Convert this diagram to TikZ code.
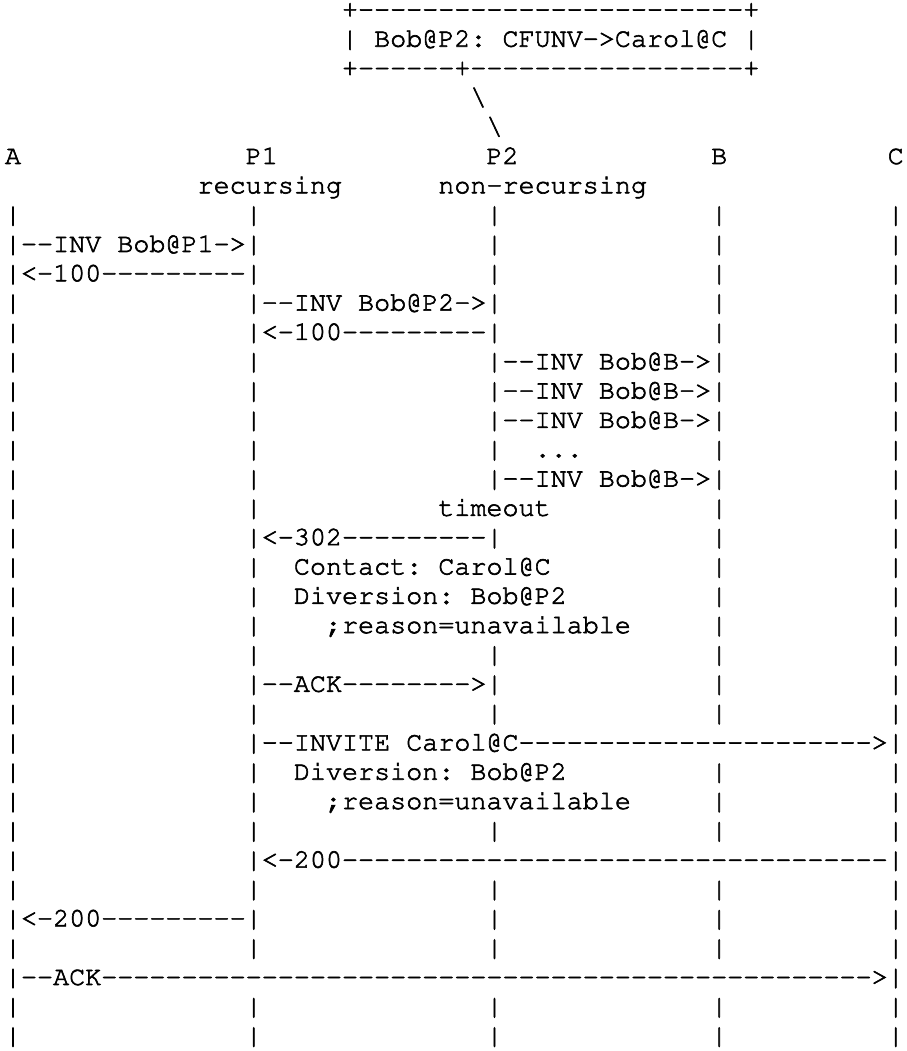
\documentclass[tikz,border=0pt]{standalone}
\usepackage[T1]{fontenc}
\renewcommand{\ttdefault}{pcr}
\ExplSyntaxOn
\cs_new:Npn \Hy #1 { \prg_replicate:nn {#1} { -\kern0pt } }
\ExplSyntaxOff
\newcommand\thickentext{\special{pdf:literal direct 2 Tr 0.6 w}}
\tikzset{txt/.style={anchor=base west, inner sep=0pt, outer sep=0pt,
  font=\fontsize{26.75}{29.32}\selectfont\ttfamily\frenchspacing\thickentext}}
\newcommand\Txt[3]{\node[txt] (r#1c#2) at ({4.975+#2*16.05},{11.92-29.32*#1}) {#3};}
\newcommand\Vb[2]{\Txt{#1}{#2}{|}}
\newcommand\AllBars[1]{\Vb{#1}{0}\Vb{#1}{15}\Vb{#1}{30}\Vb{#1}{44}\Vb{#1}{55}}
\begin{document}
\begin{tikzpicture}[x=1pt,y=1pt]
\fill[white] (0,0) rectangle (906,-1051);
% box
\Txt{1}{21}{+\Hy{24}+}
\Txt{2}{21}{| Bob@P2: CFUNV-\kern0pt>Carol@C |}
\Txt{3}{21}{+\Hy{6}+\Hy{17}+}
\Txt{4}{29}{\textbackslash}
\Txt{5}{30}{\textbackslash}
% headers
\Txt{6}{0}{A}\Txt{6}{15}{P1}\Txt{6}{30}{P2}\Txt{6}{44}{B}\Txt{6}{55}{C}
\Txt{7}{12}{recursing}\Txt{7}{27}{non-\kern0pt recursing}
\AllBars{8}
% messages
\Txt{9}{0}{|\Hy{2}INV Bob@P1-\kern0pt>|}\Vb{9}{30}\Vb{9}{44}\Vb{9}{55}
\Txt{10}{0}{|<-\kern0pt 100\Hy{9}|}\Vb{10}{30}\Vb{10}{44}\Vb{10}{55}
\Vb{11}{0}\Txt{11}{15}{|\Hy{2}INV Bob@P2-\kern0pt>|}\Vb{11}{44}\Vb{11}{55}
\Vb{12}{0}\Txt{12}{15}{|<-\kern0pt 100\Hy{9}|}\Vb{12}{44}\Vb{12}{55}
\Vb{13}{0}\Vb{13}{15}\Txt{13}{30}{|\Hy{2}INV Bob@B-\kern0pt>|}\Vb{13}{55}
\Vb{14}{0}\Vb{14}{15}\Txt{14}{30}{|\Hy{2}INV Bob@B-\kern0pt>|}\Vb{14}{55}
\Vb{15}{0}\Vb{15}{15}\Txt{15}{30}{|\Hy{2}INV Bob@B-\kern0pt>|}\Vb{15}{55}
\Vb{16}{0}\Vb{16}{15}\Vb{16}{30}\Txt{16}{33}{...}\Vb{16}{44}\Vb{16}{55}
\Vb{17}{0}\Vb{17}{15}\Txt{17}{30}{|\Hy{2}INV Bob@B-\kern0pt>|}\Vb{17}{55}
\Vb{18}{0}\Vb{18}{15}\Txt{18}{27}{timeout}\Vb{18}{44}\Vb{18}{55}
\Vb{19}{0}\Txt{19}{15}{|<-\kern0pt 302\Hy{9}|}\Vb{19}{44}\Vb{19}{55}
\Vb{20}{0}\Vb{20}{15}\Txt{20}{18}{Contact: Carol@C}\Vb{20}{44}\Vb{20}{55}
\Vb{21}{0}\Vb{21}{15}\Txt{21}{18}{Diversion: Bob@P2}\Vb{21}{44}\Vb{21}{55}
\Vb{22}{0}\Vb{22}{15}\Txt{22}{20}{;reason=unavailable}\Vb{22}{44}\Vb{22}{55}
\AllBars{23}
\Vb{24}{0}\Txt{24}{15}{|\Hy{2}ACK\Hy{8}>|}\Vb{24}{44}\Vb{24}{55}
\AllBars{25}
\Vb{26}{0}\Txt{26}{15}{|\Hy{2}INVITE Carol@C\Hy{22}>|}
\Vb{27}{0}\Vb{27}{15}\Txt{27}{18}{Diversion: Bob@P2}\Vb{27}{44}\Vb{27}{55}
\Vb{28}{0}\Vb{28}{15}\Txt{28}{20}{;reason=unavailable}\Vb{28}{44}\Vb{28}{55}
\AllBars{29}
\Vb{30}{0}\Txt{30}{15}{|<-\kern0pt 200\Hy{34}|}
\AllBars{31}
\Txt{32}{0}{|<-\kern0pt 200\Hy{9}|}\Vb{32}{30}\Vb{32}{44}\Vb{32}{55}
\AllBars{33}
\Txt{34}{0}{|\Hy{2}ACK\Hy{48}>|}
\AllBars{35}
\AllBars{36}
\end{tikzpicture}
\end{document}
